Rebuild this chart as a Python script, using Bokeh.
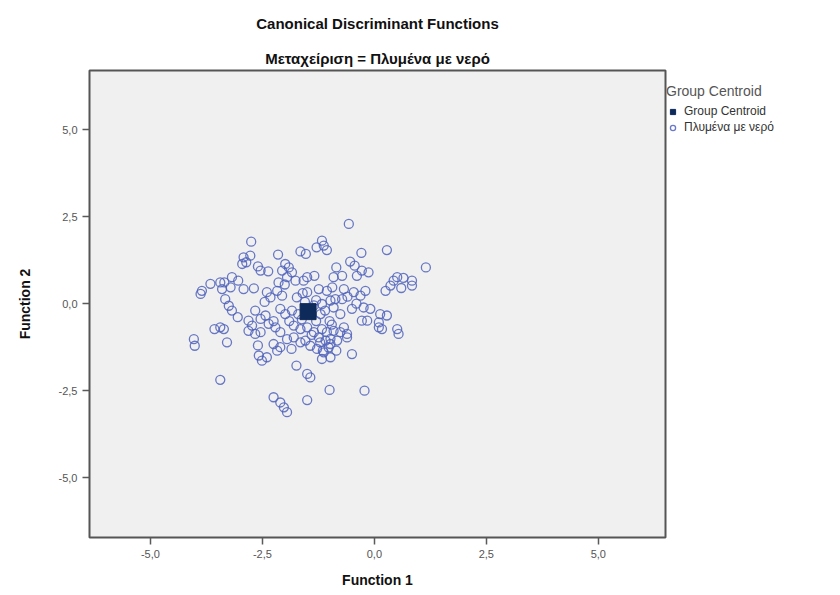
from bokeh.plotting import figure
from bokeh.models import Legend, LegendItem, Title, FixedTicker
from bokeh.embed import file_html
from bokeh.resources import INLINE

# Function 1 / Function 2 scores of cases
func1 = [-0.57, -2.75, -1.17, -1.13, -1.29, -1.06, -2.15, -1.65, -1.53, -0.29,
         0.28, 1.15, -2.92, -2.77, -2.86, -2.95, -2.60, -2.54, -2.37, -1.99,
         -1.91, -2.06, -1.84, -0.54, -0.44, -0.28, -0.13, -0.39, -0.85, -0.72,
         -0.91, -1.50, -1.34, -1.58, -2.14, -1.95, -1.76, 0.51, 0.65, 0.84,
         0.84, 0.43, 0.36, 0.25, 0.60, -3.18, -3.04, -3.21, -3.35, -3.40,
         -3.44, -3.66, -3.85, -3.88, -2.92, -2.69, -2.40, -2.17, -2.32, -2.06,
         -1.73, -1.50, -1.24, -1.06, -0.94, -0.68, -0.46, -0.20, -0.31, -3.33,
         -3.25, -3.18, -3.05, -2.66, -2.81, -2.73, -2.54, -2.43, -2.10, -1.99,
         -1.84, -1.17, -0.98, -0.87, -0.72, -0.91, -0.76, -0.50, -0.24, -0.09,
         0.13, 0.28, -0.28, -0.16, 0.10, 0.17, 0.51, 0.54, -3.57, -3.44,
         -3.36, -4.03, -4.01, -3.29, -2.81, -2.66, -2.54, -2.36, -2.21, -2.10,
         -1.80, -1.65, -1.50, -1.35, -1.95, -1.80, -1.65, -1.54, -1.17, -1.06,
         -0.91, -0.68, -0.61, -1.24, -1.09, -0.98, -0.83, -1.43, -1.28, -1.13,
         -0.98, -1.17, -2.58, -2.51, -2.40, -2.17, -2.25, -1.74, -0.50, -1.50,
         -1.43, -3.44, -2.25, -2.10, -2.02, -1.95, -1.50, -1.00, -0.22, 0.10,
         -0.76, -0.98, -1.21, -1.02, -0.61, -2.25, -2.60, -2.10, -1.20, -1.30,
         -1.00, -1.40, -1.10, -1.70, -1.90, -1.60, -1.30, -0.40, -1.85, -1.62,
         -1.15, -0.85, -1.55, -2.45, -0.60, -1.35, -2.00, -0.95]
func2 = [2.29, 1.78, 1.81, 1.67, 1.62, 1.54, 1.41, 1.50, 1.43, 1.46,
         1.54, 1.04, 1.33, 1.38, 1.19, 1.14, 1.07, 0.95, 0.93, 1.14,
         1.04, 0.95, 0.90, 1.21, 1.09, 0.95, 0.90, 0.80, 1.04, 0.80,
         0.76, 0.76, 0.80, 0.66, 0.61, 0.76, 0.66, 0.76, 0.74, 0.66,
         0.52, 0.66, 0.52, 0.37, 0.45, 0.76, 0.66, 0.47, 0.61, 0.42,
         0.61, 0.57, 0.37, 0.28, 0.42, 0.44, 0.33, 0.37, 0.18, 0.23,
         0.18, 0.33, 0.42, 0.37, 0.47, 0.42, 0.33, 0.37, 0.23, 0.13,
         -0.06, -0.20, -0.39, -0.20, -0.49, -0.63, -0.44, -0.34, -0.15, -0.30,
         -0.20, -0.01, 0.09, 0.13, 0.13, -0.11, -0.30, -0.15, -0.11, -0.15,
         -0.30, -0.34, -0.49, -0.49, -0.68, -0.73, -0.73, -0.87, -0.73, -0.68,
         -0.73, -1.02, -1.21, -1.11, -0.78, -0.87, -0.82, -0.58, -0.68, -0.82,
         -0.63, -0.73, -0.68, -0.82, -1.02, -0.97, -1.11, -1.06, -0.73, -0.82,
         -0.78, -0.68, -0.87, -0.97, -1.06, -1.16, -1.06, -1.21, -1.30, -1.40,
         -1.54, -1.59, -1.49, -1.64, -1.54, -1.35, -1.16, -1.78, -1.45, -2.02,
         -2.12, -2.19, -2.69, -2.84, -2.98, -3.12, -2.77, -2.48, -2.50, -0.54,
         -0.82, -1.01, -1.11, -1.26, -0.97, -0.50, -1.20, -1.25, -0.30, -0.50,
         -0.50, -0.90, -0.20, -0.30, -0.50, 0.30, 0.10, 0.00, -1.30, -0.45,
         -1.35, -1.35, 0.05, 0.05, 0.20, -0.05, 0.55, -0.60]

centroid_f1 = [-1.48]
centroid_f2 = [-0.23]

ticks = [-5.0, -2.5, 0.0, 2.5, 5.0]
tick_labels = ["-5,0", "-2,5", "0,0", "2,5", "5,0"]

FONT = "Liberation Sans"

p = figure(frame_width=576, frame_height=467, x_range=(-6.36, 6.5), y_range=(-6.72, 6.70),
           output_backend="svg", toolbar_location=None,
           min_border_left=89, min_border_right=159, min_border_top=70,
           min_border_bottom=52)

p.background_fill_color = "#F0F0F0"
p.border_fill_color = "white"
p.outline_line_color = "#555555"
p.outline_line_width = 2
p.grid.visible = False

circ = p.scatter(func1, func2, marker="circle", size=9, fill_color=None,
                 line_color="#4F62BC", line_width=1.3, line_alpha=0.85)
sq = p.scatter(centroid_f1, centroid_f2, marker="square", size=16,
               fill_color="#0E2A5A", line_color="#0E2A5A")

overrides = {t: l for t, l in zip(ticks, tick_labels)}
for ax in (p.xaxis, p.yaxis):
    ax.ticker = FixedTicker(ticks=ticks)
    ax.major_label_overrides = overrides
    ax.axis_line_color = None
    ax.major_tick_line_color = "#5a5a5a"
    ax.major_tick_line_width = 1.5
    ax.major_tick_out = 7
    ax.major_tick_in = 0
    ax.minor_tick_line_color = None
    ax.major_label_text_font = FONT
    ax.major_label_text_font_size = "11px"
    ax.major_label_text_color = "#555555"
    ax.axis_label_text_font = FONT
    ax.axis_label_text_font_size = "14px"
    ax.axis_label_text_font_style = "bold"
    ax.axis_label_text_color = "#111111"

p.xaxis.axis_label = "Function 1"
p.yaxis.axis_label = "Function 2"
p.xaxis.axis_label_standoff = 11
p.yaxis.axis_label_standoff = 23
p.yaxis.major_label_orientation = "horizontal"

p.title.text = "Canonical Discriminant Functions"
p.title.align = "center"
p.title.text_font = FONT
p.title.text_font_size = "15px"
p.title.text_font_style = "bold"
p.title.text_color = "#111111"
p.title.standoff = 24

sub_title = Title(text="Μεταχείριση = Πλυμένα με νερό", align="center",
                  text_font=FONT, text_font_size="15px", text_font_style="bold",
                  text_color="#111111", standoff=8)
p.add_layout(sub_title, "above")

legend = Legend(items=[LegendItem(label="Group Centroid", renderers=[sq]),
                       LegendItem(label="Πλυμένα με νερό", renderers=[circ])],
                title="Group Centroid", location=(1, 403))
legend.title_text_font = FONT
legend.title_text_font_size = "14px"
legend.title_text_color = "#555555"
legend.title_text_font_style = "normal"
legend.label_text_font = FONT
legend.label_text_font_size = "12px"
legend.label_text_color = "#333333"
legend.background_fill_alpha = 0
legend.border_line_color = None
legend.glyph_width = 13
legend.glyph_height = 13
legend.label_height = 14
legend.spacing = 2
legend.padding = 3
legend.margin = 0
legend.title_standoff = 5
p.add_layout(legend, "right")

open("out.html", "w").write(file_html(p, INLINE))
